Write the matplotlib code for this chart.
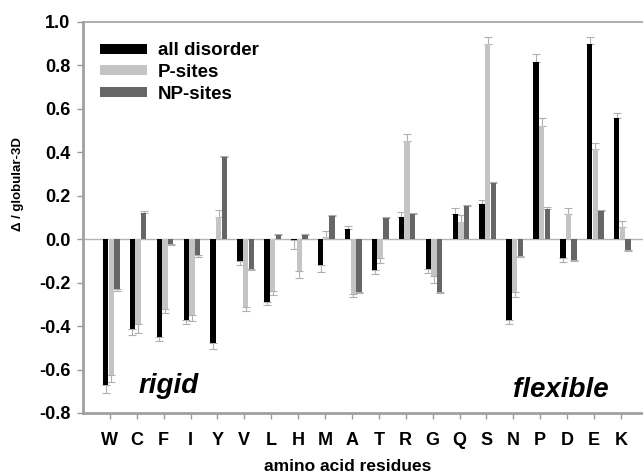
import numpy as np
import matplotlib
matplotlib.use("Agg")
import matplotlib.pyplot as plt

plt.rcParams['font.family'] = ['Liberation Sans', 'DejaVu Sans']
plt.rcParams['font.weight'] = 'bold'

# -----------------------------------------------------------------------------
# Data
# -----------------------------------------------------------------------------
residues = ['W', 'C', 'F', 'I', 'Y', 'V', 'L', 'H', 'M', 'A',
            'T', 'R', 'G', 'Q', 'S', 'N', 'P', 'D', 'E', 'K']

all_disorder = [-0.673, -0.415, -0.45, -0.37, -0.48, -0.10, -0.29, -0.005, -0.12, 0.046,
                -0.143, 0.10, -0.135, 0.118, 0.161, -0.37, 0.814, -0.085, 0.90, 0.56]
p_sites = [-0.627, -0.39, -0.32, -0.35, 0.10, -0.31, -0.24, -0.145, 0.01, -0.253,
           -0.088, 0.453, -0.17, 0.08, 0.90, -0.243, 0.521, 0.118, 0.413, 0.057]
np_sites = [-0.227, 0.12, -0.02, -0.075, 0.38, -0.135, 0.02, 0.02, 0.106, -0.243,
            0.098, 0.114, -0.243, 0.152, 0.257, -0.078, 0.141, -0.094, 0.129, -0.05]

err_all = [0.035, 0.025, 0.02, 0.02, 0.025, 0.02, 0.015, 0.04, 0.03, 0.015,
           0.015, 0.025, 0.02, 0.025, 0.02, 0.02, 0.04, 0.02, 0.03, 0.02]
err_p = [0.03, 0.04, 0.02, 0.025, 0.035, 0.02, 0.015, 0.035, 0.03, 0.015,
         0.02, 0.03, 0.03, 0.03, 0.03, 0.025, 0.035, 0.025, 0.03, 0.025]
err_np = [0.01, 0.01, 0.005, 0.005, 0.005, 0.005, 0.005, 0.005, 0.005, 0.005,
          0.005, 0.005, 0.005, 0.005, 0.005, 0.005, 0.005, 0.005, 0.005, 0.005]

yticks = [-0.8, -0.6, -0.4, -0.2, 0.0, 0.2, 0.4, 0.6, 0.8, 1.0]
ytick_labels = ['-0.8', '-0.6', '-0.4', '-0.2', '0.0', '0.2', '0.4', '0.6', '0.8', '1.0']

series = [
    ('all disorder', all_disorder, err_all, '#000000', -0.16),
    ('P-sites', p_sites, err_p, '#c4c4c4', 0.05),
    ('NP-sites', np_sites, err_np, '#666666', 0.26),
]

# -----------------------------------------------------------------------------
# Plot
# -----------------------------------------------------------------------------
fig = plt.figure(figsize=(6.43, 4.76), dpi=100)
ax = fig.add_axes([0.129, 0.1324, 0.871, 0.8214])

x = np.arange(len(residues))
width = 0.2

for label, vals, errs, color, offset in series:
    vals = np.array(vals)
    errs = np.array(errs)
    lower = np.where(vals < 0, errs, 0)
    upper = np.where(vals >= 0, errs, 0)
    ax.bar(x + offset, vals, width, color=color, label=label, zorder=3)
    ax.errorbar(x + offset, vals, yerr=[lower, upper], fmt='none',
                ecolor='#b0b0b0', elinewidth=0.8, capsize=3, capthick=0.8, zorder=2)

ax.axhline(0, color='#b5b5b5', linewidth=1.0, zorder=1)

ax.set_xlim(-1.0, 19.82)
ax.set_ylim(-0.8, 1.0)
ax.set_xticks(x)
ax.set_xticklabels(residues, fontsize=13, fontweight='bold')
ax.set_yticks(yticks)
ax.set_yticklabels(ytick_labels, fontsize=13, fontweight='bold')
ax.tick_params(axis='both', colors='#999999', length=4, width=1, labelcolor='black')
ax.tick_params(axis='x', pad=10)
ax.tick_params(axis='y', pad=5)

for side in ['left', 'bottom']:
    ax.spines[side].set_color('#a0a0a0')
    ax.spines[side].set_linewidth(2)
ax.spines['top'].set_color('#a0a0a0')
ax.spines['top'].set_linewidth(1.2)
ax.spines['right'].set_visible(False)

ax.set_xlabel('amino acid residues', fontsize=12.5, fontweight='bold')
ax.xaxis.set_label_coords(0.472, -0.118)
ax.set_ylabel('Δ / globular-3D', fontsize=9.5, fontweight='bold')
ax.yaxis.set_label_coords(-0.106, 0.586)

ax.text(2.2, -0.71, 'rigid', fontsize=20, fontweight='bold', style='italic',
        ha='center', va='baseline')
ax.text(16.75, -0.727, 'flexible', fontsize=20, fontweight='bold', style='italic',
        ha='center', va='baseline')

ax.legend(loc='upper left', frameon=False, handlelength=2.5, handleheight=0.45,
          handletextpad=0.6, labelspacing=0.25, borderaxespad=0, borderpad=0,
          bbox_to_anchor=(0.030, 0.948), prop={'weight': 'bold', 'size': 13.5})

fig.savefig('out.png', dpi=100)
